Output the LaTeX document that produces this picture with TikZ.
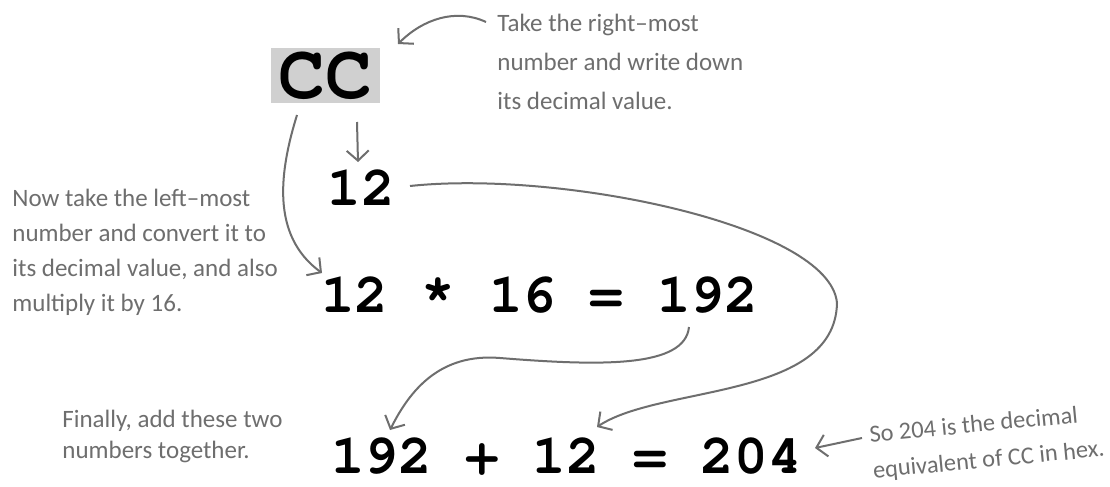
\documentclass[tikz,border=0pt]{standalone}
\usepackage{fontspec}
\newfontfamily\codefont{TeX Gyre Cursor}
\newfontfamily\handfont{Carlito}
\usepackage{tikz}
\usetikzlibrary{positioning,calc,arrows.meta}
\definecolor{inkgray}{HTML}{6E6E6E}
\definecolor{boxgray}{HTML}{D0D0D0}

\begin{document}
\begin{tikzpicture}[
  x=0.5pt, y=-0.5pt,
  num/.style={font=\codefont\bfseries\fontsize{28}{28}\selectfont, inner sep=0pt},
  hexbox/.style={num, fill=boxgray, minimum width=54.5pt, minimum height=27.5pt, font=\codefont\bfseries\fontsize{39}{39}\selectfont},
  note/.style={font=\handfont\fontsize{12.5}{#1}\selectfont, text=inkgray, align=left, inner sep=0pt, anchor=north west},
  note/.default=18,
  arr/.style={-{Straight Barb[length=5pt,width=11pt]}, line width=1pt, inkgray}
]
\path[use as bounding box, fill=white] (0,0) rectangle (1110,487);

% Numbers
\node[hexbox] (cc) at (325.5,75.5) {CC};
\node[num] (twelve) at (361,188) {12};
\node[num] (mult) at (539.5,295) {12 * 16 = 192};
\node[num] (sum) at (566.5,456.5) {192 + 12 = 204};

% Notes
\node[note=19.5] (note_top) at (497,14) {Take the right–most\\number and write down\\its decimal value.};
\node[note=17.5] (note_left) at (12,189) {Now take the left–most\\number and convert it to\\its decimal value, and also\\multiply it by 16.};
\node[note=15.5] (note_final) at (62,410) {Finally, add these two\\numbers together.};
\node[note=17, rotate=5.5, anchor=west, font=\handfont\fontsize{12.2}{18}\selectfont] (note_hex) at (871,454) {So 204 is the decimal\\equivalent of CC in hex.};

% Arrows
\draw[arr] ($(note_top.north west)+(-11,8)$) .. controls +(-30,-14) and +(25,-25) .. ($(cc)+(72.5,-31.5)$);
\draw[arr] ($(cc)+(31.5,46.5)$) -- ($(twelve)+(-3,-26)$);
\draw[arr] ($(cc)+(-28.5,39.5)$) .. controls +(-17,55) and +(-52,-38) .. ($(mult)+(-217.5,-22)$);
\draw[arr] ($(twelve)+(49,-2)$) .. controls +(150,-16) and +(-7,-78) .. ($(mult)+(297.5,8)$)
  .. controls +(-2,97) and +(63,-42) .. ($(sum)+(30.5,-29.5)$);
\draw[arr] ($(mult)+(149.5,32)$) .. controls +(-4,41) and +(100,8) .. ($(sum)+(-66.5,-98.5)$)
  .. controls +(-60,-5) and +(20,-40) .. ($(sum)+(-176.5,-26.5)$);
\draw[arr] ($(note_hex.west)+(-9,-16)$) -- ($(sum)+(248.5,-8.5)$);
\end{tikzpicture}
\end{document}
